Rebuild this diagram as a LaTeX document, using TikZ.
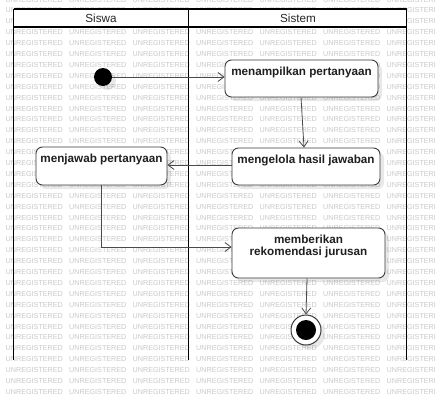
\documentclass[tikz,border=0pt]{standalone}
\usepackage{fontspec}
\setmainfont{Liberation Sans}
\usetikzlibrary{arrows.meta,shadows}
\definecolor{wmgray}{HTML}{C9C9C9}
\definecolor{edge}{HTML}{4A4A4A}
\definecolor{boxline}{HTML}{3A3A3A}
\begin{document}
\begin{tikzpicture}[x=1pt,y=-1pt,
  softshadow/.style={drop shadow={shadow xshift=4pt, shadow yshift=-4pt, fill=black, opacity=0.09}},
  act/.style={draw=boxline, line width=0.9pt, fill=white, rounded corners=6.5pt,
              inner sep=0pt, softshadow},
  acttext/.style={anchor=north, inner sep=0pt, align=center, text=black!88,
                  font=\fontsize{11.7}{11.3}\selectfont\bfseries},
  headtext/.style={inner sep=0pt, text=black!85, font=\fontsize{11.7}{13}\selectfont},
  flow/.style={draw=edge, line width=0.8pt, -{Straight Barb[length=6pt,width=9pt,line width=0.8pt]}},
  lane/.style={line width=1.8pt, black},
  wm/.style={anchor=west, inner sep=0pt, text=wmgray, font=\fontsize{7.2}{8}\selectfont},
]
\useasboundingbox (0,0) rectangle (435,399);
\clip (0,0) rectangle (435,399);
\fill[white] (0,0) rectangle (435,399);

% tiled watermark text in the background
\foreach \k in {0,...,36}{
  \foreach \c in {0,...,7}{
    \node[wm] (wm-\k-\c) at (5.5+63.5*\c, 392-10.9*\k) {UNREGISTERED};
  }
}

% swimlane header
\fill[white] (13.5,9) rectangle (406.5,27);
\draw[line width=1.2pt] (13.5,9) -- (406.5,9);
\draw[line width=1.2pt] (13.5,27) -- (406.5,27);
\node[headtext] (siswa) at (101,18) {Siswa};
\node[headtext] (sistem) at (298,18) {Sistem};

% swimlane borders
\draw[lane] (13.5,9) -- (13.5,360);
\draw[lane] (188.5,9) -- (188.5,360);
\draw[lane] (406.5,9) -- (406.5,360);

% initial state
\node[circle, fill=black, minimum size=18pt, inner sep=0pt, softshadow] (init) at (103,77) {};

% actions
\node[act, minimum width=153pt, minimum height=37pt] (tampil) at (301.5,78.5) {};
\node[acttext] (tampilT) at ([yshift=-7.5pt]tampil.north) {menampilkan pertanyaan};

\node[act, minimum width=148pt, minimum height=37pt] (kelola) at (306,166.5) {};
\node[acttext] (kelolaT) at ([yshift=-7.5pt]kelola.north) {mengelola hasil jawaban};

\node[act, minimum width=131pt, minimum height=38pt] (jawab) at (101.5,166) {};
\node[acttext] (jawabT) at ([yshift=-7.5pt]jawab.north) {menjawab pertanyaan};

\node[act, minimum width=153pt, minimum height=50pt] (beri) at (308.5,253) {};
\node[acttext] (beriT) at ([yshift=-7.5pt]beri.north) {memberikan\\rekomendasi jurusan};

% final state
\node[circle, draw=boxline, line width=1pt, fill=white, minimum size=30pt, inner sep=0pt, softshadow] (final) at (306,330) {};
\node[circle, fill=black, minimum size=20pt, inner sep=0pt] (finalDot) at (final) {};

% transitions
\draw[flow] (init.east) -- (init.east -| tampil.west);
\draw[flow] ([xshift=-0.5pt]tampil.south) -- ([xshift=-2pt]kelola.north);
\draw[flow] ([yshift=1.5pt]kelola.west) -- ([yshift=1pt]jawab.east);
\draw[flow] (jawab.south) |- ([yshift=6pt]beri.west);
\draw[flow] ([xshift=-1.5pt]beri.south) -- (final.north);
\end{tikzpicture}
\end{document}
